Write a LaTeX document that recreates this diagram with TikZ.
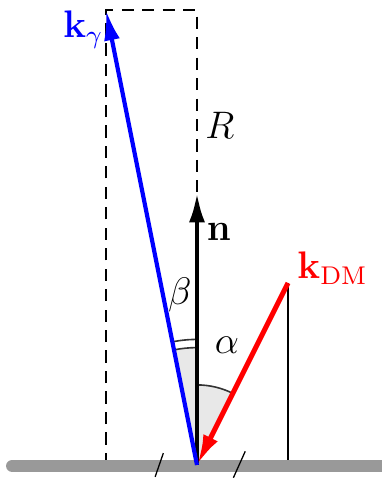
\documentclass[tikz,border=0pt]{standalone}
\usetikzlibrary{arrows.meta}

\begin{document}
\begin{tikzpicture}[
vec/.style={line width=1.3pt,-{Latex[length=9.5pt,width=5pt]}},
guide/.style={line width=0.6pt,dash pattern=on 3.8pt off 2.6pt},
anglefill/.style={fill=gray!18},
anglearc/.style={line width=0.5pt,black!80},
ground/.style={line width=3.9pt,gray!80,line cap=round},
every node/.style={font=\large}
]
\useasboundingbox (-2.165,-0.165) rectangle (2.033,5.11);

\coordinate (O) at (0,0);
\coordinate (kg) at (-1,5);
\coordinate (n) at (0,3);
\coordinate (kdm) at (1,2);
\coordinate (top) at (0,5);
\coordinate (corner) at (-1,0);
\coordinate (foot) at (1,0);
\coordinate (gl) at (-2.03,-0.01);
\coordinate (gr) at (2.3,-0.01);

% shaded angles
\fill[anglefill] (O) -- ++(63.43:0.88) arc[start angle=63.43,end angle=90,radius=0.88] -- cycle;
\fill[anglefill] (O) -- ++(90:1.29) arc[start angle=90,end angle=101.31,radius=1.29] -- cycle;
\draw[anglearc] (O) ++(63.43:0.88) arc[start angle=63.43,end angle=90,radius=0.88];
\draw[anglearc] (O) ++(90:1.29) arc[start angle=90,end angle=101.31,radius=1.29];
\draw[anglearc] (O) ++(90:1.38) arc[start angle=90,end angle=101.31,radius=1.38];

% box
\draw[guide] (corner) -- (kg) -- (top) -- (n);
\draw[thin] (kdm) -- (foot);

% surface
\draw[ground] (gl) -- (gr);
\draw[thin] (-0.46,-0.13) -- (-0.37,0.13);
\draw[thin] (0.40,-0.14) -- (0.53,0.15);

\draw[vec,black,line width=1.5pt] (O) -- (n);
\draw[vec,blue] (O) -- (kg);
\draw[vec,red,line width=1.6pt] (kdm) -- (O);

\node (lkg) [blue] at (-1.25,4.78) {$\mathbf{k}_\gamma$};
\node (lR) at (0.25,3.73) {$R$};
\node (ln) at (0.24,2.56) {$\mathbf{n}$};
\node (lbeta) at (-0.19,1.87) {$\beta$};
\node (lalpha) at (0.33,1.32) {$\alpha$};
\node (lkdm) [red,anchor=west] at (0.98,2.16) {$\mathbf{k}_{\mathrm{DM}}$};

\end{tikzpicture}
\end{document}
